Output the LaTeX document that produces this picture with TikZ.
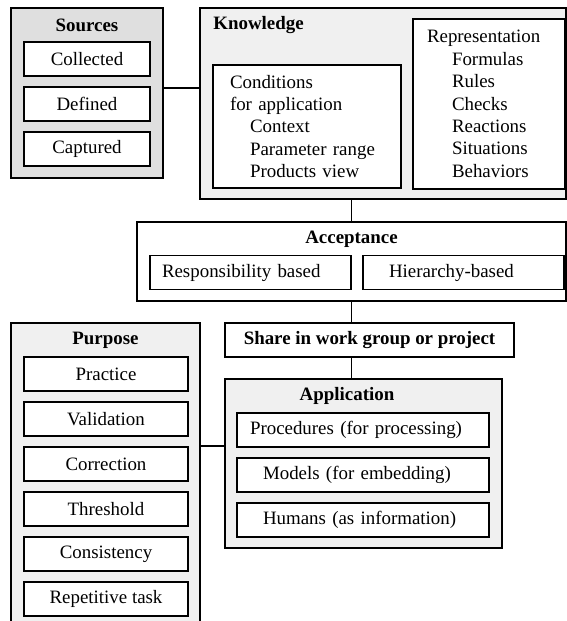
\documentclass[tikz,border=0pt]{standalone}
\usepackage{fontspec}
\setmainfont{Liberation Serif}
\usepackage{tikz}
\newcommand{\diagfont}{\fontsize{9.45}{11.2}\selectfont}
\tikzset{panel/.style = {draw, line width = 0.9pt, inner sep = 0}}
\tikzset{item/.style = {draw, fill = white, line width = 0.9pt, minimum height = 17pt, font = \diagfont}}
\tikzset{padded/.style = {item, align = left, inner xsep = #1}}
\tikzset{heading/.style = {font = \diagfont\bfseries, inner sep = 0}}
\tikzset{link/.style = {line width = 0.8pt}}

\begin{document}
\begin{tikzpicture}[x = 0.5pt, y = -0.5pt, font = \diagfont]
    \useasboundingbox (0, 0) rectangle (567, 621);
    \clip (0, 0) rectangle (567, 621);

    % sources
    \node [panel, fill = gray!25, minimum width = 76pt, minimum height = 85pt] (src) at (87, 93) {};
    \node [heading] (srct) at (87, 25) {Sources};
    \node [item, minimum width = 63pt] (coll) at (87, 59) {Collected};
    \node [item, minimum width = 63pt] (defd) at (87, 104) {Defined};
    \node [item, minimum width = 63pt] (capt) at (87, 149) {Captured};

    % knowledge
    \node [panel, fill = gray!12, minimum width = 183pt, minimum height = 95.5pt] (know) at (383, 103.5) {};
    \node [heading, anchor = west] (knowt) at (213, 25) {Knowledge};
    \node [padded = 8.5pt, text width = 77pt, minimum height = 61.5pt] (cond) at (307, 126.5)
        {Conditions\\for application\\\hspace*{10pt}Context\\\hspace*{10pt}Parameter range\\\hspace*{10pt}Products view};
    \node [padded = 7pt, text width = 62pt, minimum height = 85pt] (repr) at (489, 104)
        {Representation\\\hspace*{12.5pt}Formulas\\\hspace*{12.5pt}Rules\\\hspace*{12.5pt}Checks\\\hspace*{12.5pt}Reactions\\\hspace*{12.5pt}Situations\\\hspace*{12.5pt}Behaviors};

    % acceptance
    \node [panel, fill = white, minimum width = 214.5pt, minimum height = 39.5pt] (acc) at (351.5, 261.5) {};
    \node [heading] (acct) at (351.5, 239) {Acceptance};
    \node [padded = 6pt, text width = 88.5pt] (resp) at (250.5, 272.5) {Responsibility based};
    \node [padded = 13pt, text width = 74.5pt] (hier) at (463.5, 272.5) {Hierarchy-based};

    % share
    \node [item, font = \diagfont\bfseries, minimum width = 144.5pt] (share) at (369.5, 340) {Share in work group or project};

    % purpose
    \node [panel, fill = gray!12, minimum width = 94.5pt, minimum height = 163.5pt] (purp) at (105.5, 486.5) {};
    \node [heading] (purpt) at (105.5, 340) {Purpose};
    \node [item, minimum width = 82pt] (prac) at (106, 374) {Practice};
    \node [item, minimum width = 82pt] (vali) at (106, 419) {Validation};
    \node [item, minimum width = 82pt] (corr) at (106, 464) {Correction};
    \node [item, minimum width = 82pt] (thre) at (106, 509) {Threshold};
    \node [item, minimum width = 82pt] (cons) at (106, 554) {Consistency};
    \node [item, minimum width = 82pt] (rept) at (106, 599) {Repetitive task};

    % application
    \node [panel, fill = gray!12, minimum width = 138.5pt, minimum height = 84.5pt] (app) at (363.5, 463.5) {};
    \node [heading] (appt) at (347, 396) {Application};
    \node [padded = 6.5pt, text width = 113pt] (proc) at (363, 430) {Procedures (for processing)};
    \node [padded = 13pt, text width = 100pt] (modl) at (363, 475) {Models (for embedding)};
    \node [padded = 13pt, text width = 100pt] (hum) at (363, 520) {Humans (as information)};

    % connectors
    \draw [link] (src.east |- 0, 88) -- (know.west |- 0, 88);
    \draw [link] (acc.north) -- (acc.north |- know.south);
    \draw [link] (acc.south) -- (acc.south |- share.north);
    \draw [link] (acc.south |- share.south) -- (acc.south |- app.north);
    \draw [link] (purp.east |- 0, 446) -- (app.west |- 0, 446);
\end{tikzpicture}
\end{document}
